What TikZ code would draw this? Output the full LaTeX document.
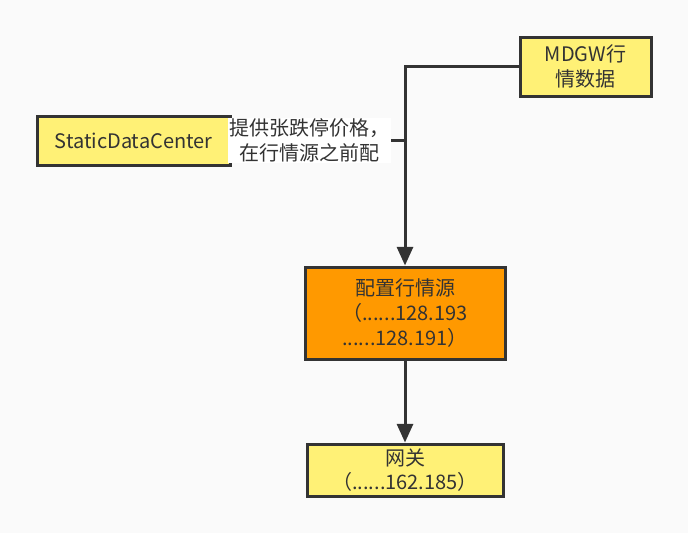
\documentclass[tikz,border=0pt]{standalone}
\usepackage{fontspec}
\setmainfont{Noto Sans CJK SC}
\usetikzlibrary{arrows.meta,positioning}
\definecolor{boxyellow}{RGB}{255,241,118}
\definecolor{boxorange}{RGB}{255,153,0}
\definecolor{linegrey}{RGB}{51,51,51}
\definecolor{bggrey}{RGB}{250,250,250}
\tikzset{
  databox/.style={draw=linegrey, line width=2.25pt, fill=boxyellow, align=center, inner sep=0pt,
    text=linegrey, font=\fontsize{15}{18.5}\selectfont},
  srcbox/.style={databox, fill=boxorange},
  conn/.style={draw=linegrey, line width=2.25pt},
  tip/.style={-{Triangle[length=14pt,width=12pt]}},
  edgetext/.style={fill=white, align=center, inner sep=1pt, text=linegrey,
    font=\fontsize{15}{18.5}\selectfont}
}
\begin{document}
\begin{tikzpicture}[x=0.75pt,y=0.75pt,yscale=-1,xscale=1]
  %background, sets the page size
  \path[fill=bggrey, use as bounding box] (0,0) rectangle (688,533);

  % Nodes
  \node[databox, minimum width=98.25pt, minimum height=44.25pt] (mdgw) at (585.5,66.5) {MDGW行\\情数据};
  \node[databox, minimum width=144.75pt, minimum height=36.75pt] (sdc) at (133.5,140.5) {StaticDataCenter};
  \node[srcbox, minimum width=150pt, minimum height=69pt] (src) at (405,313) {配置行情源\\（......128.193\\......128.191）};
  \node[databox, minimum width=147pt, minimum height=39pt] (gw) at (405,470) {网关\\（......162.185）};

  % join point on the vertical line
  \coordinate (join) at (405,140.5);

  % Connectors
  \draw[conn, tip] (mdgw.west) -| (src.north);
  \draw[conn] (sdc.east) -- node[edgetext, pos=0.45] (price) {提供张跌停价格，\\在行情源之前配} (join);
  \draw[conn, tip] (src.south) -- (gw.north);
\end{tikzpicture}
\end{document}
